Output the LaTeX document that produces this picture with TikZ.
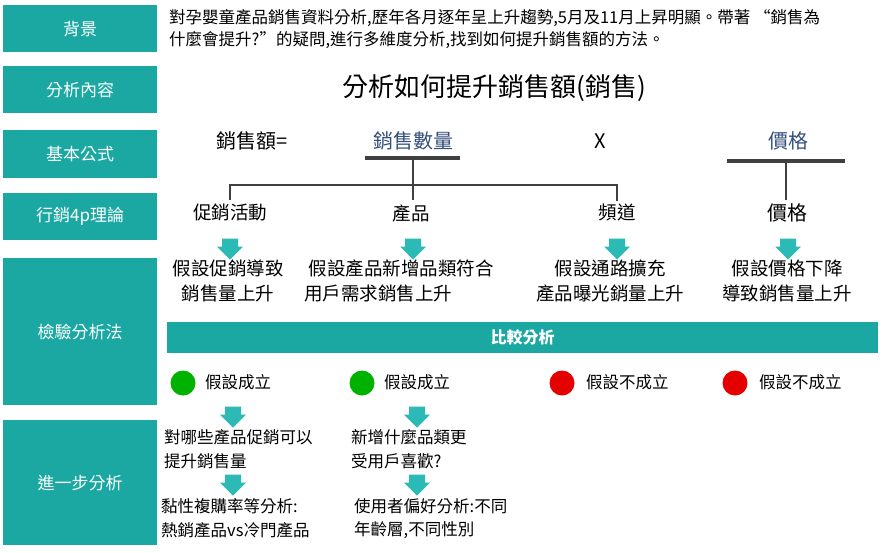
\documentclass[tikz,border=0pt]{standalone}
\usepackage{fontspec}
\setmainfont{Noto Sans CJK TC}
\usetikzlibrary{shapes.arrows}
\definecolor{teal1}{HTML}{1BA8A2}
\definecolor{arr}{HTML}{2BBAB5}
\definecolor{navy}{HTML}{34507A}
\begin{document}
\begin{tikzpicture}[x=1pt,y=-1pt,
 lbox/.style={fill=teal1,text=white,minimum width=154pt,anchor=north west,inner sep=0pt,font=\fontsize{17}{19}\selectfont},
 t/.style={font=\fontsize{18.5}{20}\selectfont,inner sep=1pt},
 s/.style={font=\fontsize{16.5}{18}\selectfont,inner sep=1pt,anchor=west},
 darr/.style={fill=arr,single arrow,shape border rotate=270,minimum width=26pt,minimum height=21pt,single arrow head extend=2pt,inner sep=3pt},
 br/.style={line width=1.3pt,draw=black!75},
 bar/.style={line width=4pt,draw=black!75}]
\useasboundingbox (0,0) rectangle (886,552);
\fill[white] (0,0) rectangle (886,552);
\node[lbox,minimum height=47pt] (b1) at (3,5) {背景};
\node[lbox,minimum height=47pt] (b2) at (3,66) {分析內容};
\node[lbox,minimum height=48pt] (b3) at (3,130) {基本公式};
\node[lbox,minimum height=47pt] (b4) at (3,193) {行銷4p理論};
\node[lbox,minimum height=147pt] (b5) at (3,258) {檢驗分析法};
\node[lbox,minimum height=125pt] (b6) at (3,420) {進一步分析};
\node[s] (bg1) at (168,18) {對孕嬰童產品銷售資料分析,歷年各月逐年呈上升趨勢,5月及11月上昇明顯。帶著 “銷售為};
\node[s] (bg2) at (168,40) {什麼會提升?”的疑問,進行多維度分析,找到如何提升銷售額的方法。};
\node[font=\fontsize{26}{30}\selectfont] (title) at (494,88) {分析如何提升銷售額(銷售)};
\node[t,font=\fontsize{20}{22}\selectfont] (f1) at (252,141) {銷售額=};
\node[t,font=\fontsize{20}{22}\selectfont,text=navy] (f2) at (413,141) {銷售數量};
\node[t,font=\fontsize{20}{22}\selectfont] (fx) at (600,141) {X};
\node[t,font=\fontsize{20}{22}\selectfont,text=navy] (f3) at (788,141) {價格};
\coordinate (q1) at (365,158); \coordinate (q2) at (460,158);
\draw[bar] (q1) -- (q2);
\coordinate (p1) at (727,161); \coordinate (p2) at (845,161);
\draw[bar] (p1) -- (p2);
\node[t] (c1) at (230,213) {促銷活動};
\node[t] (c2) at (411,213) {產品};
\node[t] (c3) at (617,213) {頻道};
\node[t,font=\fontsize{20}{22}\selectfont] (c4) at (787,213) {價格};
\draw[br] (413,158) -- (413,200);
\draw[br] (230,200) -- (230,185) -- (617,185) -- (617,201);
\draw[br] (786,161) -- (786,200);
\foreach \x/\n in {230/a1,413/a2,617/a3,788/a4}{\node[darr] (\n) at (\x,245) {};}
\node[t] (h1a) at (228,268) {假設促銷導致};
\node[t] (h1b) at (228,293) {銷售量上升};
\node[t] (h2a) at (401,268) {假設產品新增品類符合};
\node[t] (h2b) at (378,293) {用戶需求銷售上升};
\node[t] (h3a) at (610,268) {假設通路擴充};
\node[t] (h3b) at (610,293) {產品曝光銷量上升};
\node[t] (h4a) at (787,268) {假設價格下降};
\node[t] (h4b) at (787,293) {導致銷售量上升};
\node[fill=teal1,text=white,minimum width=711pt,minimum height=31pt,anchor=north west,inner sep=0pt,font=\bfseries\fontsize{16}{18}\selectfont] (cmp) at (167,322) {比較分析};
\foreach \x/\c/\n in {183/green!70!black/g1,362/green!70!black/g2,562/red!90!black/r1,735/red!90!black/r2}{\fill[\c] (\x,383) circle (12.5);}
\node[s] (o1) at (204,382) {假設成立};
\node[s] (o2) at (383,382) {假設成立};
\node[s] (o3) at (585,382) {假設不成立};
\node[s] (o4) at (758,382) {假設不成立};
\node[darr] (d1) at (233,413) {};
\node[darr] (d2) at (417,413) {};
\node[s] (e1) at (163,437) {對哪些產品促銷可以};
\node[s] (e2) at (163,461) {提升銷售量};
\node[s] (e3) at (350,437) {新增什麼品類更};
\node[s] (e4) at (350,461) {受用戶喜歡?};
\node[darr] (d3) at (233,481) {};
\node[darr] (d4) at (417,481) {};
\node[s] (e5) at (160,506) {黏性複購率等分析:};
\node[s] (e6) at (160,530) {熱銷產品vs冷門產品};
\node[s] (e7) at (353,506) {使用者偏好分析:不同};
\node[s] (e8) at (353,530) {年齡層,不同性別};
\end{tikzpicture}
\end{document}
